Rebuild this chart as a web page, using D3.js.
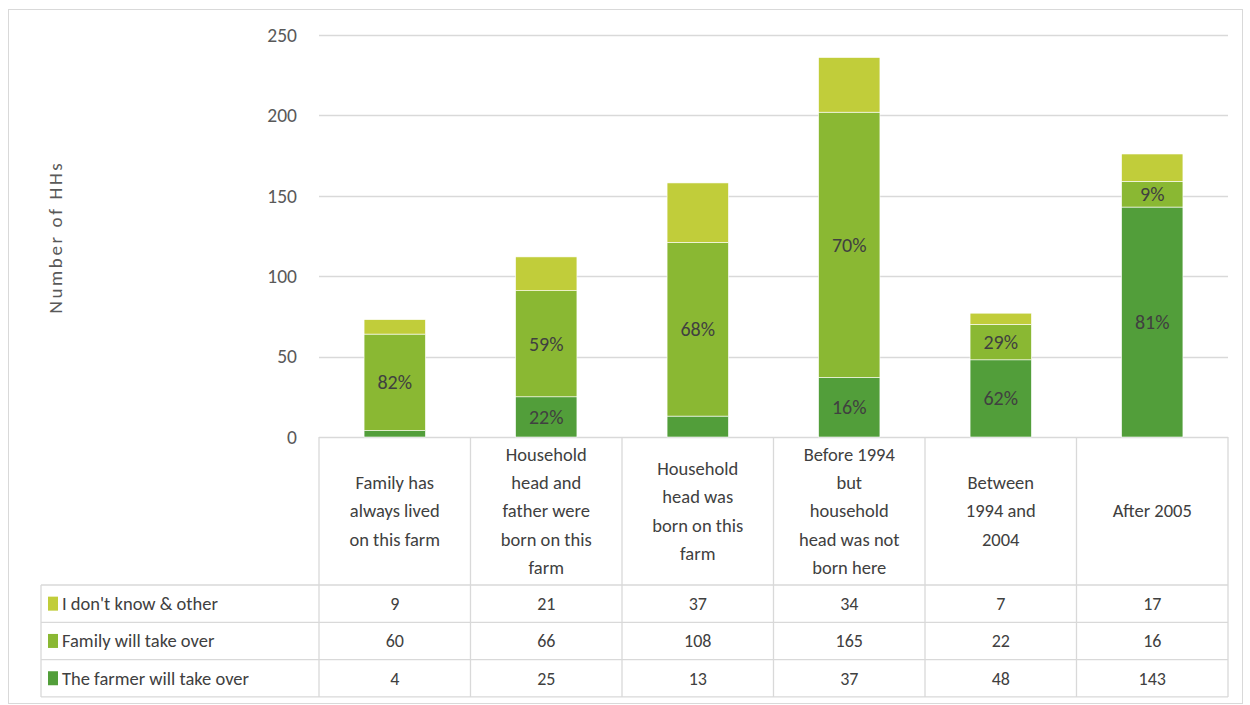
<!DOCTYPE html>
<html>
<head>
<meta charset="utf-8">
<script src="https://cdn.jsdelivr.net/npm/d3@7"></script>
<style>
  body { margin: 0; background: #fff; }
  svg text { font-family: Carlito, Calibri, Lato, "Liberation Sans", sans-serif; fill: #404040; }
</style>
</head>
<body>
<svg id="chart" width="1250" height="705"></svg>
<script>
// categories (lines of each header cell)
var categories = [
  ["Family has", "always lived", "on this farm"],
  ["Household", "head and", "father were", "born on this", "farm"],
  ["Household", "head was", "born on this", "farm"],
  ["Before 1994", "but", "household", "head was not", "born here"],
  ["Between", "1994 and", "2004"],
  ["After 2005"]
];
var seriesNames = ["The farmer will take over", "Family will take over", "I don't know & other"];
var seriesColors = ["#529e3a", "#8ab833", "#c1cd3a"];
var farmerValues = [4, 25, 13, 37, 48, 143];
var familyValues = [60, 66, 108, 165, 22, 16];
var otherValues = [9, 21, 37, 34, 7, 17];
// which segments carry a percentage label
var farmerShowLabel = [false, true, false, true, true, true];
var familyShowLabel = [true, true, true, true, true, true];
var otherShowLabel = [false, false, false, false, false, false];
var yTicks = [0, 50, 100, 150, 200, 250];

var series = [farmerValues, familyValues, otherValues];
var showLabel = [farmerShowLabel, familyShowLabel, otherShowLabel];

var svg = d3.select("#chart");
var plotLeft = 319, plotRight = 1228, plotTop = 35, plotBottom = 437;
var headerBottom = 585, rowH = 37.3, legendLeft = 41;
var gridColor = "#d9d9d9";

// outer chart border
svg.append("rect").attr("x", 8.5).attr("y", 9.5).attr("width", 1234).attr("height", 694)
  .attr("fill", "none").attr("stroke", gridColor);

var x = d3.scaleBand().domain(d3.range(categories.length)).range([plotLeft, plotRight]).paddingInner(0).paddingOuter(0);
var y = d3.scaleLinear().domain([0, 250]).range([plotBottom, plotTop]);
var barW = x.bandwidth() * 0.405;

// gridlines + tick labels
svg.append("g").selectAll("line").data(yTicks).join("line")
  .attr("x1", plotLeft).attr("x2", plotRight)
  .attr("y1", function(d) { return Math.round(y(d)) + 0.5; })
  .attr("y2", function(d) { return Math.round(y(d)) + 0.5; })
  .attr("stroke", gridColor).attr("stroke-width", 1.3);
svg.append("g").selectAll("text").data(yTicks).join("text")
  .attr("x", 297).attr("y", function(d) { return y(d); })
  .attr("dy", "0.35em").attr("text-anchor", "end")
  .style("font-size", "19.5px").style("fill", "#595959")
  .text(function(d) { return d; });

// y axis title
svg.append("text").attr("transform", "translate(62,237) rotate(-90)")
  .attr("text-anchor", "middle").style("font-size", "19px").style("fill", "#595959")
  .style("letter-spacing", "2.6px")
  .text("Number of HHs");

// stacked bars
var stackData = categories.map(function(c, i) {
  return { farmer: farmerValues[i], family: familyValues[i], other: otherValues[i] };
});
var stacked = d3.stack().keys(["farmer", "family", "other"])(stackData);

var bars = svg.append("g");
stacked.forEach(function(layer, s) {
  bars.append("g").selectAll("rect").data(layer).join("rect")
    .attr("x", function(d, i) { return x(i) + (x.bandwidth() - barW) / 2; })
    .attr("width", barW)
    .attr("y", function(d) { return y(d[1]); })
    .attr("height", function(d) { return y(d[0]) - y(d[1]); })
    .attr("fill", seriesColors[s])
    .attr("stroke", "#fff").attr("stroke-width", 0.6);
});

// percentage labels
stacked.forEach(function(layer, s) {
  var labelled = layer.map(function(d, i) { return { seg: d, i: i }; })
    .filter(function(o) { return showLabel[s][o.i]; });
  bars.append("g").selectAll("text").data(labelled).join("text")
    .attr("x", function(o) { return x(o.i) + x.bandwidth() / 2; })
    .attr("y", function(o) { return (y(o.seg[0]) + y(o.seg[1])) / 2; })
    .attr("dy", "0.35em").attr("text-anchor", "middle")
    .style("font-size", "20px")
    .text(function(o) {
      var total = farmerValues[o.i] + familyValues[o.i] + otherValues[o.i];
      return Math.round(series[s][o.i] / total * 100) + "%";
    });
});

// data table
var table = svg.append("g").attr("stroke", gridColor).attr("stroke-width", 1.3);
var tableBottom = headerBottom + rowH * 3;
// horizontal lines
[headerBottom, headerBottom + rowH, headerBottom + 2 * rowH, tableBottom].forEach(function(yy) {
  table.append("line").attr("x1", legendLeft).attr("x2", plotRight).attr("y1", yy).attr("y2", yy);
});
// vertical lines
d3.range(categories.length + 1).forEach(function(i) {
  var xx = i < categories.length ? x(i) : plotRight;
  table.append("line").attr("x1", xx).attr("x2", xx).attr("y1", plotBottom).attr("y2", tableBottom);
});
table.append("line").attr("x1", legendLeft).attr("x2", legendLeft).attr("y1", headerBottom).attr("y2", tableBottom);

// header cell labels
var lineH = 28.3;
categories.forEach(function(lines, i) {
  var cy = (plotBottom + headerBottom) / 2;
  var t = svg.append("text").attr("text-anchor", "middle").style("font-size", "18.5px");
  lines.forEach(function(l, k) {
    t.append("tspan").attr("x", x(i) + x.bandwidth() / 2)
      .attr("y", cy + (k - (lines.length - 1) / 2) * lineH)
      .attr("dy", "0.35em").text(l);
  });
});

// table rows: other, family, farmer (top to bottom)
var rowOrder = [2, 1, 0];
rowOrder.forEach(function(s, r) {
  var cy = headerBottom + rowH * (r + 0.5);
  svg.append("rect").attr("x", 48).attr("y", cy - 7).attr("width", 10).attr("height", 14)
    .attr("fill", seriesColors[s]);
  svg.append("text").attr("x", 62).attr("y", cy).attr("dy", "0.35em")
    .style("font-size", "18.5px").text(seriesNames[s]);
  svg.append("g").selectAll("text").data(series[s]).join("text")
    .attr("x", function(d, i) { return x(i) + x.bandwidth() / 2; })
    .attr("y", cy).attr("dy", "0.35em").attr("text-anchor", "middle")
    .style("font-size", "18px")
    .text(function(d) { return d; });
});
</script>
</body>
</html>
